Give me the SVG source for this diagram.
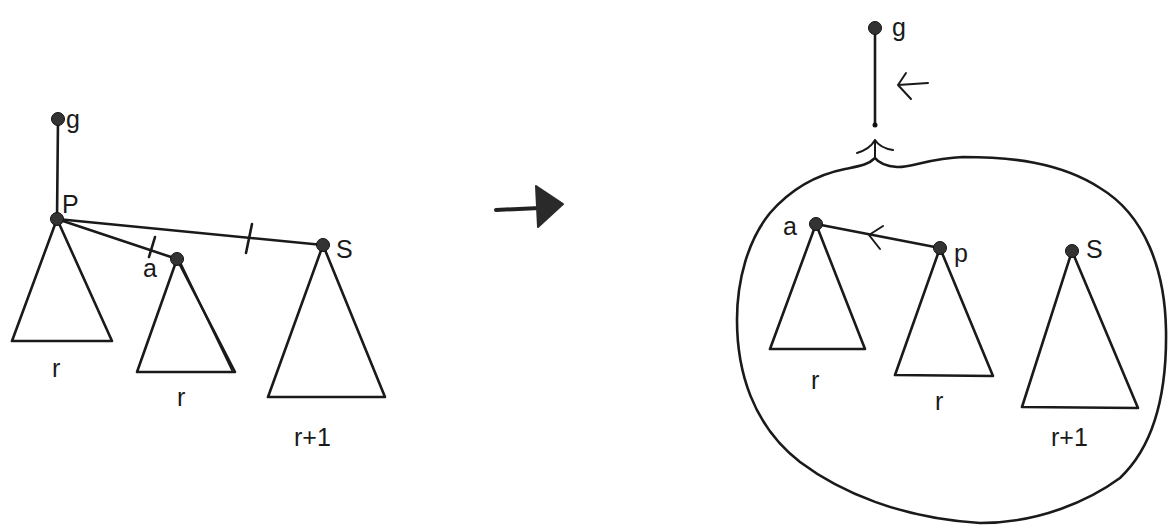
<svg xmlns="http://www.w3.org/2000/svg" width="1169" height="525" viewBox="0 0 1169 525">
<style>
.ln{stroke:#1a1a1a;stroke-width:2.6;fill:none;stroke-linejoin:round;stroke-linecap:round}
.thin{stroke:#1a1a1a;stroke-width:2;fill:none;stroke-linecap:round;stroke-linejoin:round}
.dot{fill:#333;stroke:#111;stroke-width:1}
.t{font-family:"Liberation Sans",Arial,sans-serif;font-size:25px;fill:#1a1a1a}
</style>
<rect width="1169" height="525" fill="#fff"/>
<g id="connectors">
<line class="ln" x1="58" y1="120" x2="57" y2="219"/>
<line class="ln" x1="57" y1="219" x2="177" y2="259"/>
<line class="ln" x1="57" y1="219" x2="323" y2="245"/>
<line class="ln" x1="155" y1="237" x2="149" y2="257"/>
<line class="ln" x1="252" y1="224" x2="246" y2="253"/>
<line class="ln" x1="875" y1="29" x2="875" y2="124"/>
<circle cx="875" cy="125" r="2.5" fill="#111"/>
<path class="thin" d="M928,83 L898,85 M906,73 L898,85 L911,99"/>
<line class="ln" x1="816" y1="224" x2="940" y2="248"/>
<path class="thin" d="M883,226 L869,235 L880,249"/>
</g>
<g id="transform-arrow">
<line x1="496" y1="210" x2="540" y2="208" stroke="#222" stroke-width="4" stroke-linecap="round"/>
<path d="M536,186 L563,204 L538,227 Z" fill="#2a2a2a" stroke="#2a2a2a" stroke-width="2" stroke-linejoin="round"/>
</g>
<g id="left-g"><circle class="dot" cx="58" cy="119" r="6.5"/><text class="t" x="66" y="128">g</text></g>
<g id="left-p"><polygon class="ln" points="57,219 12,341 112,341"/><circle class="dot" cx="57" cy="219" r="6.5"/><text class="t" x="62" y="213">P</text><text class="t" x="52" y="377">r</text></g>
<g id="left-a"><polygon class="ln" points="177,259 137,372 235,372"/><line class="thin" x1="180" y1="262" x2="232" y2="370"/><circle class="dot" cx="177" cy="259" r="6.5"/><text class="t" x="143" y="277">a</text><text class="t" x="177" y="406">r</text></g>
<g id="left-s"><polygon class="ln" points="323,245 268,397 385,397"/><circle class="dot" cx="323" cy="245" r="6.5"/><text class="t" x="336" y="258">S</text><text class="t" x="294" y="446">r+1</text></g>
<g id="right-g"><circle class="dot" cx="875" cy="28" r="6.5"/><text class="t" x="892" y="36">g</text></g>
<g id="right-set">
<path class="ln" d="M875,158 C868,165 860,166 845,169 C815,175 790,190 770,213 C748,240 737,280 737,320 C737,370 752,425 800,462 C840,492 900,518 980,523 C1040,523 1090,500 1120,478 C1155,445 1167,390 1166,330 C1165,270 1145,215 1100,188 C1060,162 1010,157 963,157 C930,158 910,168 897,167 C885,166 878,162 875,158 Z"/>
<path class="thin" d="M857,153 Q870,149 875,140 Q880,148 893,150 M875,140 L875,158"/>
</g>
<g id="right-a"><polygon class="ln" points="816,224 770,349 865,349"/><circle class="dot" cx="816" cy="224" r="6.5"/><text class="t" x="783" y="235">a</text><text class="t" x="811" y="389">r</text></g>
<g id="right-p"><polygon class="ln" points="940,248 895,375 993,376"/><circle class="dot" cx="940" cy="248" r="6.5"/><text class="t" x="954" y="262">p</text><text class="t" x="935" y="410">r</text></g>
<g id="right-s"><polygon class="ln" points="1072,251 1022,407 1138,408"/><circle class="dot" cx="1072" cy="251" r="6.5"/><text class="t" x="1086" y="258">S</text><text class="t" x="1051" y="446">r+1</text></g>
</svg>
